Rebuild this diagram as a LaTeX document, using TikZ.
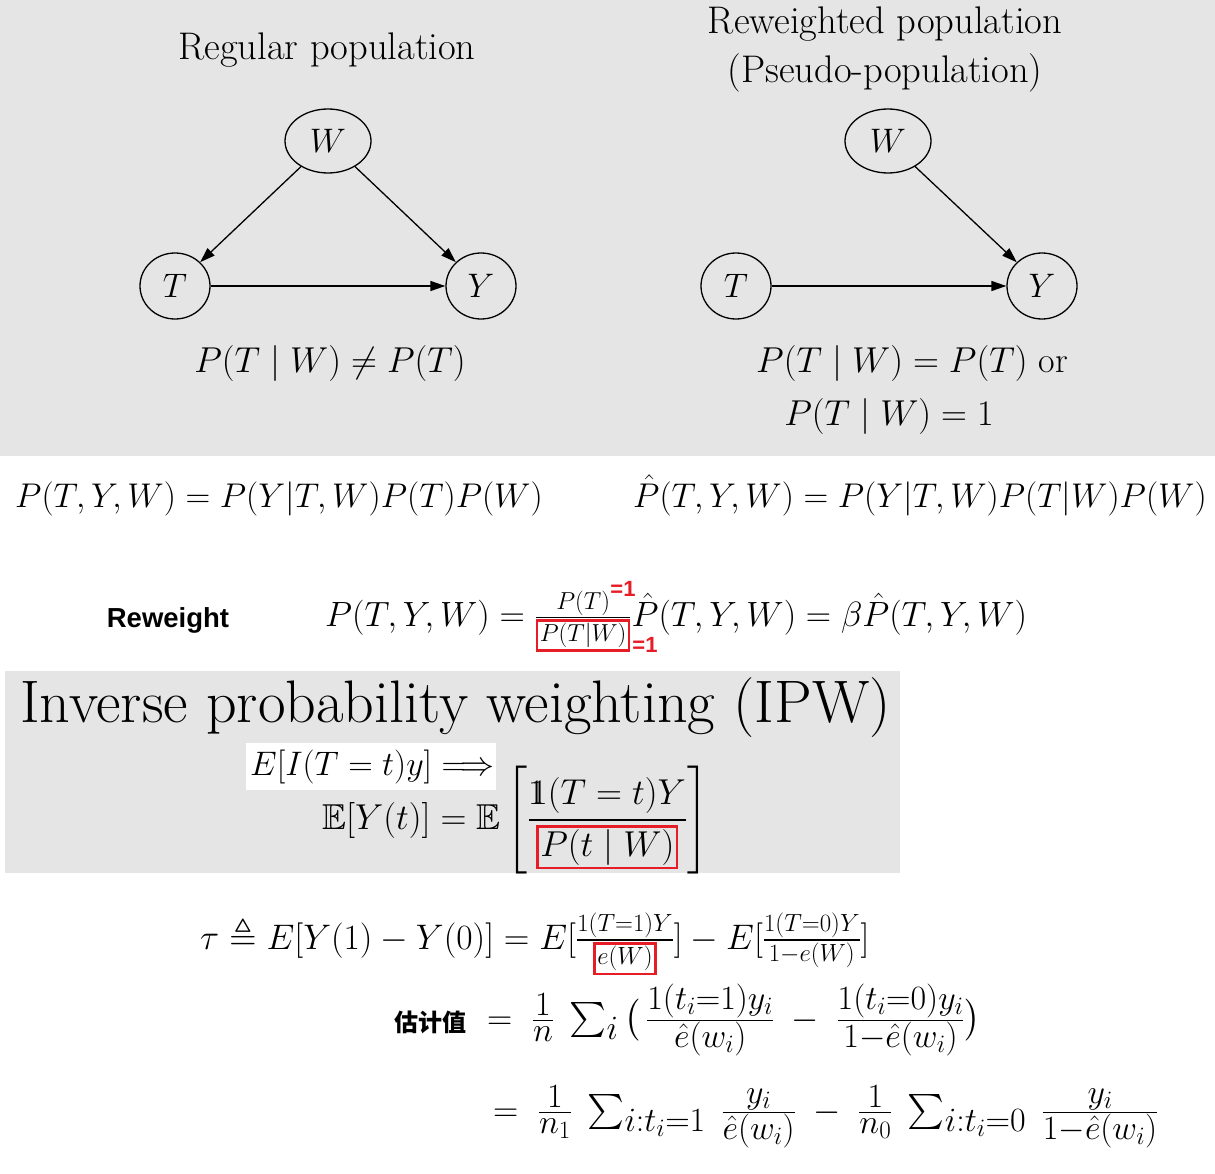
\RequirePackage{fix-cm}
\documentclass[tikz,border=0pt]{standalone}
\usepackage{amsmath,amssymb}
\usepackage{fontspec}
\newfontfamily\cjk{Noto Sans CJK SC}
\newfontfamily\uisans{Liberation Sans}
\usetikzlibrary{arrows.meta,shapes.geometric}
\definecolor{panelgray}{RGB}{229,229,229}
\definecolor{markred}{RGB}{230,28,38}
\newcommand{\redbox}[1]{{\color{markred}\setlength{\fboxrule}{2.5pt}\setlength{\fboxsep}{1.5pt}\fbox{\color{black}$#1$}}}
\newcommand{\indic}{\mathrm{1}\mkern-7mu\mathrm{1}}
% larger fractions and limits in the estimator rows
\DeclareMathSizes{35}{35}{34}{25}

\begin{document}
\begin{tikzpicture}[x=1pt,y=-1pt,
  var/.style={draw,ellipse,line width=1.3pt,inner sep=0pt,minimum width=70pt,minimum height=66pt,font=\fontsize{34}{40}\selectfont},
  edge/.style={line width=1.3pt,-{Triangle[length=15pt,width=10pt]}},
  heading/.style={font=\fontsize{38.5}{49}\selectfont,align=center},
  cond/.style={font=\fontsize{36}{44}\selectfont},
  eqn/.style={anchor=base west,inner sep=0pt,font=\fontsize{34.3}{44}\selectfont},
  tag/.style={font=\uisans\bfseries\fontsize{27.5}{30}\selectfont},
  one/.style={text=markred,inner sep=0pt,font=\uisans\bfseries\fontsize{22}{24}\selectfont}]
  \useasboundingbox (0,0) rectangle (1215,1174);
  % Grey panels
  \fill[panelgray] (0,0) rectangle (1215,456);
  \fill[panelgray] (5,671) rectangle (900,873);
  \fill[white] (246,743) rectangle (496,790);
  % Regular population
  \node[heading] (regTitle) at (327,50) {Regular population};
  \node[var,minimum width=86pt,minimum height=64pt] (wL) at (328,141) {$W$};
  \node[var] (tL) at (175,286) {$T$};
  \node[var] (yL) at (481,286) {$Y$};
  \draw[edge] (wL) -- (tL);
  \draw[edge] (wL) -- (yL);
  \draw[edge] (tL) -- (yL);
  \node[cond] (regCond) at (330,363) {$P(T\mid W)\neq P(T)$};
  % Reweighted population
  \node[heading] (rwTitle) at (885,49) {Reweighted population\\(Pseudo-population)};
  \node[var,minimum width=86pt,minimum height=64pt] (wR) at (888,141) {$W$};
  \node[var] (tR) at (736,286) {$T$};
  \node[var] (yR) at (1042,286) {$Y$};
  \draw[edge] (wR) -- (yR);
  \draw[edge] (tR) -- (yR);
  \node[cond] (rwCond) at (912,363) {$P(T\mid W)=P(T)$ or};
  \node[cond] (rwCondB) at (889,416) {$P(T\mid W)=1$};
  % Joint distributions
  \node[eqn] (jointL) at (15,507) {$P(T,Y,W)=P(Y|T,W)P(T)P(W)$};
  \node[eqn] (jointR) at (633,507) {$\hat{P}(T,Y,W)=P(Y|T,W)P(T|W)P(W)$};
  % Reweight
  \node[tag] (rwTag) at (168,620) {Reweight};
  \node[eqn,font=\fontsize{35.1}{44}\selectfont] (rwEq) at (325,626) {$P(T,Y,W)=\frac{P(T)}{\redbox{\scriptstyle P(T|W)}}\hat{P}(T,Y,W)=\beta\hat{P}(T,Y,W)$};
  \node[one] (oneUp) at (623,589) {=1};
  \node[one] (oneDown) at (645,645) {=1};
  % IPW
  \node[anchor=west,inner sep=0pt,font=\fontsize{60}{66}\selectfont] (ipwTitle) at (20,708) {Inverse probability weighting (IPW)};
  \node[eqn,font=\fontsize{34}{40}\selectfont] (ipwHint) at (250,775) {$E[I(T=t)y]\Longrightarrow$};
  \node[eqn,font=\fontsize{36}{44}\selectfont] (ipwEq) at (322,829) {$\mathbb{E}[Y(t)]=\mathbb{E}\left[\dfrac{\indic(T=t)Y}{\redbox{P(t\mid W)}}\right]$};
  % Estimator
  \node[eqn,font=\fontsize{35.5}{44}\selectfont] (tauEq) at (200,949) {$\tau\triangleq E[Y(1)-Y(0)]=E[\frac{1(T=1)Y}{\redbox{\scriptstyle e(W)}}]-E[\frac{1(T=0)Y}{1-e(W)}]$};
  \node[font=\cjk\bfseries\fontsize{24}{28}\selectfont] (estTag) at (430,1022) {估计值};
  \node[eqn,font=\fontsize{35}{44}\selectfont] (estEq) at (487,1029) {$=\;\frac{1}{n}\;\sum_i\big(\,\frac{1(t_i=1)y_i}{\hat{e}(w_i)}\;-\;\frac{1(t_i=0)y_i}{1-\hat{e}(w_i)}\big)$};
  \node[eqn,font=\fontsize{35}{44}\selectfont] (estEqB) at (493,1121) {$=\;\frac{1}{n_1}\;\sum_{i:t_i=1}\;\frac{y_i}{\hat{e}(w_i)}\;-\;\frac{1}{n_0}\;\sum_{i:t_i=0}\;\frac{y_i}{1-\hat{e}(w_i)}$};
\end{tikzpicture}
\end{document}
